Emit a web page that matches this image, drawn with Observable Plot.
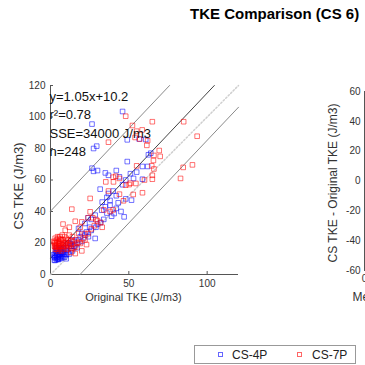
<!DOCTYPE html>
<html><head><meta charset="utf-8">
<script src="https://cdn.jsdelivr.net/npm/d3@7"></script>
<script src="https://cdn.jsdelivr.net/npm/@observablehq/plot@0.6"></script>
<style>
body{margin:0;width:365px;height:365px;overflow:hidden;position:relative;background:#fff;font-family:"Liberation Sans",Arial,sans-serif;}
#title{position:absolute;left:190px;top:5px;font-weight:bold;font-size:15px;white-space:nowrap;color:#000;}
#left{position:absolute;left:0;top:0;width:250px;}
#right{position:absolute;left:280px;top:0;width:200px;}
svg{max-width:none !important;}
#legend{position:absolute;left:194px;top:345px;width:160px;height:17px;border:1px solid #999;background:#fff;font-size:12px;color:#222;}
#legend .m{position:absolute;top:6px;width:3px;height:3px;border:1px solid;}
#legend .t{position:absolute;top:2px;}
</style></head>
<body>
<div id="title"></div>
<div id="left"></div>
<div id="right"></div>
<div id="legend"></div>
<script>
const titleText = "TKE Comparison (CS 6)";
const seriesNames = ["CS-4P", "CS-7P"];
const seriesColors = ["#0000ff", "#ff0000"];
const xLabel = "Original TKE (J/m3)";
const yLabel = "CS TKE (J/m3)";
const diffLabel = "CS TKE - Original TKE (J/m3)";
const meanLabel = "Mean TKE (J/m3)";
const xTicks = [0, 50, 100];
const yTicks = [0, 20, 40, 60, 80, 100, 120];
const diffTicks = [-60, -40, -20, 0, 20, 40, 60];
const meanTicks = [0];
const xDomain = [0, 120];
const yDomain = [0, 120];
const fitSlope = 1.05, fitIntercept = 10.2, bandHalfWidth = 30;
const statsLines = ["y=1.05x+10.2", "r\u00B2=0.78", "SSE=34000 J/m3", "n=248"];

const cs4pOriginal = [46,26.5,27.5,29.5,26.5,27.5,30,35,37,56.6,60.8,49,62.5,62,58.7,49,58.7,48,42,44,51,31.7,37,36,38,51.7,43.2,42,47,40.6,28.5,32.7,22,17.9,20,24.2,28.5,12.6,39,34,30,26,23,25,33,38,45,20,18,16,15,14,13,11,10,9,8,7,6,5,4,3,4,5,6,7,8,3,2.5,4,5,6,7,9,10,11,12,3,4,5,6,2.5,3.5,5,8,10,3,4.5,5.5,6.5,7.5,9,13,15,17,2,3.5,4.5,6,8,11,14,19,22,32,36,40,46,53,29,26,24,48,42,55,64,35,4,7,10];
const cs4pCS = [103.5,95.5,80,81.5,67.5,65.5,66,64.5,63,86,85.7,85.5,76,68.6,68.6,71.7,60.5,60,66,62,64,54.2,51.4,49,47,47.2,45.5,42,36.6,38.7,37.7,40.8,32.4,29.2,26,24,22.9,19.7,37,35,32,28,27,30,46,44,40,21,22,19,18,15,16.5,14,15,13,14,12,11,10,9.5,10.5,12,13,15,16,17,12,11,14,11.5,13,14,16,17,18,13,13.5,11,9.5,10,9,15,16,11.5,12.5,9,10,12,14,13,11,18,21,17,12.5,17,15.5,17,19,20,22,24,25,33,39,53,57,61,30,35,36,48,50,65,77,43,16.5,10.5,10];
const cs7pOriginal = [48,52.3,55,58.5,65,85,93.6,61.5,37,54,69.4,66,65.7,64.6,55,66,65,65,84.7,90.6,83,41.7,40,35.3,40.2,48,50.2,54.5,52.8,58.7,46.6,25.3,13.6,25.3,15.8,20,9.4,19,13.6,15.8,44,38,40,33,32,30,24,18,22,23,20,14,12,10,8,7,6,5,4,3,4,5,6,7,6,4,3,5,15,11,10,16,8,9,2.5,3,7,8,10,12,13,14,17,21,24,26,28,12,6,5,4,7,9,11,5,4,3,6,2.5,3.5,5.5,6.5,8.5,9.5,11,13,16,18,22,29,34,37,51,57,62,60,27,2,4.5,7.5,10,3,14,19,8,12,44,70];
const cs7pCS = [100.5,94.6,91,91.8,97,97,87.8,82,84,87,78.7,75.6,72.4,69,69,67,63,60.5,68,69.6,61,62.4,61.8,58.8,58.8,56.7,57.1,57.8,50.8,51.9,46.8,48.3,41.5,39.8,33.8,33.4,28.1,19.7,16.5,13.3,51,40,41,30,33,34,36,26,26,19,15,21,20,21,18,19,20,21,20,19,17,17,16,22,24,22,21,18,17,19,17,22,22,24,18,16,15,20,23,18,14,19,20,23,26,29,31,25,18,15,19,17,18,22,23,16,23,21,20,18,19.5,22.5,16,20,16,21.5,17.5,20.5,22,35,41,53,58,86,85,60,36,21,24,25,19,17.5,24,30,32,30,61,75];

const font = '"Liberation Sans", Arial, sans-serif';
const axisColor = "#555";
const plainFormat = d => String(d);

function clippedLine(a, b) {
  const x0 = Math.max(xDomain[0], (yDomain[0] - b) / a);
  const x1 = Math.min(xDomain[1], (yDomain[1] - b) / a);
  return [{x: x0, y: a * x0 + b}, {x: x1, y: a * x1 + b}];
}
const pts4 = cs4pOriginal.map((x, i) => ({x, y: cs4pCS[i]}));
const pts7 = cs7pOriginal.map((x, i) => ({x, y: cs7pCS[i]}));

const left = Plot.plot({
  width: 250, height: 310,
  marginLeft: 50, marginRight: 12, marginTop: 85, marginBottom: 36,
  x: {domain: xDomain}, y: {domain: yDomain},
  style: {fontFamily: font, fontSize: "10px", color: "#333", background: "transparent", overflow: "visible", maxWidth: "none"},
  marks: [
    Plot.ruleX([xDomain[0]], {stroke: axisColor}),
    Plot.ruleY([yDomain[0]], {stroke: axisColor}),
    Plot.axisX({ticks: xTicks, tickSize: -3, tickPadding: 8, label: null, stroke: axisColor, tickFormat: plainFormat}),
    Plot.axisY({ticks: yTicks, tickSize: -3, tickPadding: 8, label: null, stroke: axisColor, tickFormat: plainFormat}),
    Plot.line(clippedLine(1, 0), {x: "x", y: "y", stroke: "#cfcfcf", strokeDasharray: "1.5,2"}),
    Plot.line(clippedLine(fitSlope, fitIntercept + bandHalfWidth), {x: "x", y: "y", stroke: "#8a8a8a", strokeWidth: 1}),
    Plot.line(clippedLine(fitSlope, fitIntercept - bandHalfWidth), {x: "x", y: "y", stroke: "#8a8a8a", strokeWidth: 1}),
    Plot.line(clippedLine(fitSlope, fitIntercept), {x: "x", y: "y", stroke: "#444", strokeWidth: 1}),
    Plot.dot(pts4, {x: "x", y: "y", symbol: "square", r: 2.6, stroke: seriesColors[0], strokeOpacity: 0.55, fill: "none", strokeWidth: 1}),
    Plot.dot(pts7, {x: "x", y: "y", symbol: "square", r: 2.6, stroke: seriesColors[1], strokeOpacity: 0.55, fill: "none", strokeWidth: 1}),
    Plot.text([statsLines.join("\n")], {frameAnchor: "top-left", lineAnchor: "top", textAnchor: "start", lineHeight: 1.42, fontSize: 13, fill: "#111", dy: 2, dx: -1}),
    Plot.text([xLabel], {frameAnchor: "bottom", lineAnchor: "top", textAnchor: "middle", dy: 19, dx: -11, fontSize: 11, fill: "#333"}),
    Plot.text([yLabel], {frameAnchor: "left", rotate: -90, textAnchor: "middle", lineAnchor: "middle", dx: -32, dy: 6, fontSize: 13, fill: "#333"})
  ]
});
document.getElementById("left").appendChild(left);

const right = Plot.plot({
  width: 200, height: 310,
  marginLeft: 84, marginRight: 0, marginTop: 91, marginBottom: 40,
  x: {domain: [0, 100]}, y: {domain: [diffTicks[0], diffTicks[diffTicks.length - 1]]},
  style: {fontFamily: font, fontSize: "10px", color: "#333", background: "transparent", maxWidth: "none"},
  marks: [
    Plot.ruleX([0], {stroke: axisColor}),
    Plot.ruleY([diffTicks[0]], {stroke: axisColor}),
    Plot.axisY({ticks: diffTicks, tickSize: -3, tickPadding: 7, label: null, stroke: axisColor, tickFormat: plainFormat}),
    Plot.axisX({ticks: meanTicks, tickSize: -3, tickPadding: 7, label: null, stroke: axisColor, tickFormat: plainFormat}),
    Plot.text([diffLabel], {frameAnchor: "left", rotate: -90, textAnchor: "middle", lineAnchor: "middle", dx: -31, dy: 2, fontSize: 12, fill: "#333"}),
    Plot.text([meanLabel], {frameAnchor: "bottom-left", lineAnchor: "top", textAnchor: "start", dx: -12, dy: 22, fontSize: 12, fill: "#333"})
  ]
});
document.getElementById("right").appendChild(right);

document.getElementById("title").textContent = titleText;
const lg = document.getElementById("legend");
const legendPos = [[23, 37], [102, 117]];
seriesNames.forEach((name, i) => {
  const m = document.createElement("div");
  m.className = "m"; m.style.left = legendPos[i][0] + "px"; m.style.borderColor = seriesColors[i]; m.style.opacity = 0.6;
  const t = document.createElement("div");
  t.className = "t"; t.style.left = legendPos[i][1] + "px"; t.textContent = name;
  lg.appendChild(m); lg.appendChild(t);
});
</script>
</body></html>
